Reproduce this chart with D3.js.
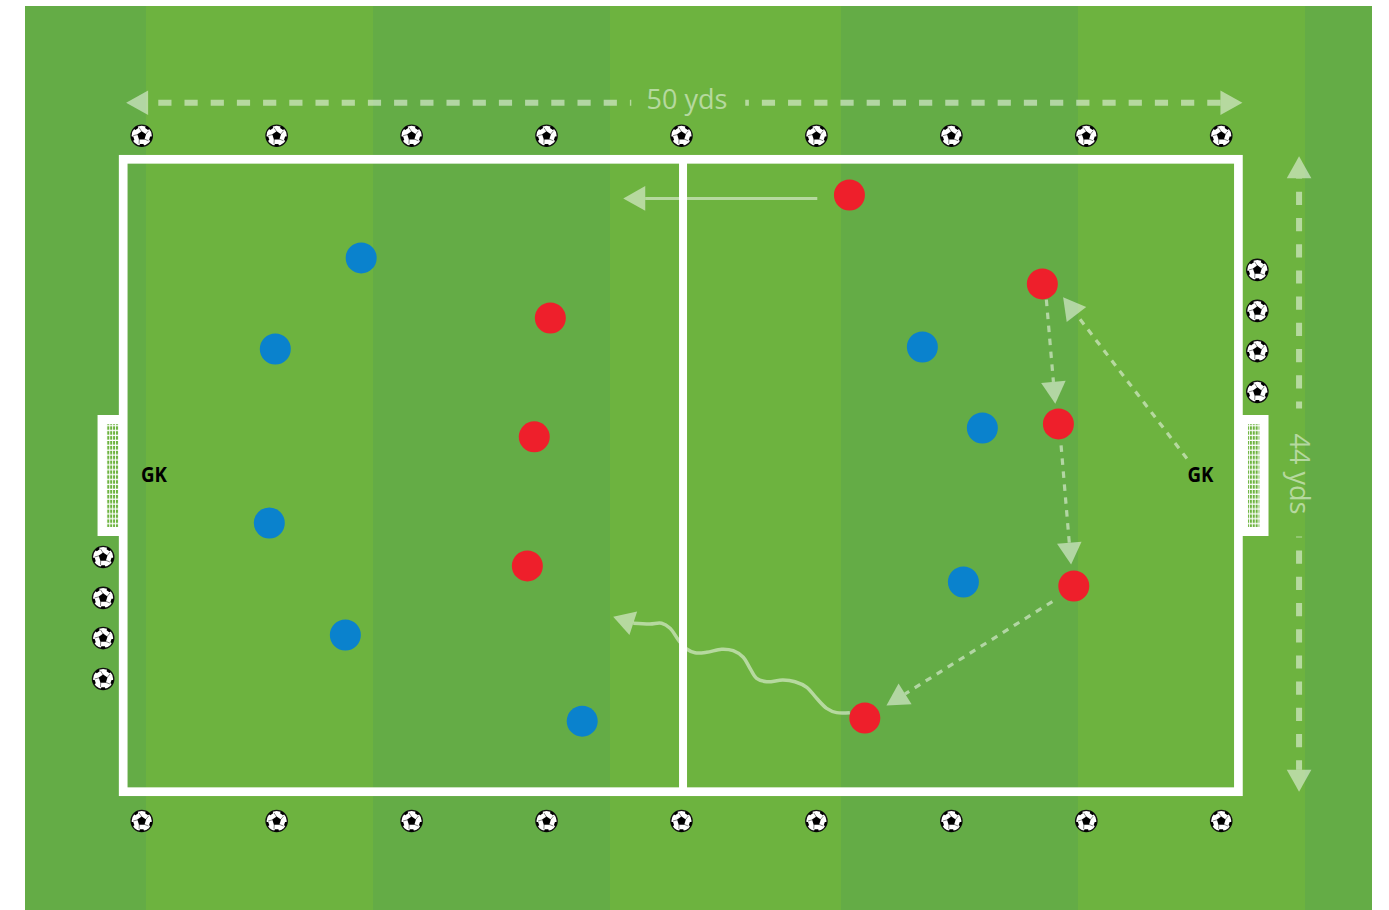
<!DOCTYPE html>
<html>
<head>
<meta charset="utf-8">
<script src="https://cdn.jsdelivr.net/npm/d3@7"></script>
<style>
  html, body { margin: 0; background: #fff; }
  svg { display: block; }
</style>
</head>
<body>
<div id="chart"></div>
<script>
// all positions are in yards, measured from the top left corner of the pitch
var stripeEdges = [-4.39, 1.03, 11.21, 21.84, 32.2, 42.83, 53.0, 56.0];
var fieldTop = -10.65;
var fieldBottom = 52.28;
var halfwayLine = 25.1;

var blueX = [10.67, 6.82, 6.55, 9.96, 20.58, 35.83, 38.52, 37.67];
var blueY = [6.86, 13.20, 25.30, 33.10, 39.09, 13.06, 18.70, 29.41];
var redX = [32.56, 19.15, 18.43, 18.12, 41.21, 41.93, 42.62, 33.25];
var redY = [2.48, 11.04, 19.31, 28.29, 8.67, 18.41, 29.69, 38.88];

var ballRowX = [0.83, 6.88, 12.93, 18.98, 25.03, 31.08, 37.13, 43.18, 49.23];
var ballRowY = [-1.64, 46.04];
var ballLeftX = -0.90;
var ballLeftY = [27.67, 30.52, 33.31, 36.16];
var ballRightX = 50.85;
var ballRightY = [7.70, 10.55, 13.34, 16.18];

var goalY = [17.79, 26.21];
var netY = [18.42, 25.58];
var goalLeftX = [-1.15, 0];
var netLeftX = [-0.73, -0.21];
var goalRightX = [50, 51.35];
var netRightX = [50.43, 50.94];

// [fromX, fromY, tipX, tipY]
var solidRun = [31.12, 2.72, 22.42, 2.72];
var passes = [
  [47.69, 20.82, 42.14, 9.59],
  [41.39, 9.77, 41.79, 17.01],
  [42.05, 19.91, 42.50, 28.20],
  [41.66, 30.77, 34.22, 38.01]
];
var measures = [
  [22.78, -3.93, 0.13, -3.93],
  [27.89, -3.93, 50.18, -3.93],
  [52.72, 17.33, 52.72, -0.21],
  [52.72, 26.25, 52.72, 44]
];
var dribbleX = [32.58, 31.99, 31.54, 31.09, 30.65, 30.12, 29.58, 28.85, 28.40, 28.10, 27.80, 27.35, 26.83, 26.16, 25.64, 25.26, 24.89, 24.52, 24.14, 23.62, 22.87];
var dribbleY = [38.50, 38.50, 38.20, 37.50, 36.74, 36.35, 36.23, 36.35, 36.11, 35.41, 34.65, 34.19, 34.09, 34.30, 34.33, 34.07, 33.44, 32.63, 32.28, 32.33, 32.28];
var dribbleTip = [21.97, 31.82];

var keepers = [[1.38, 22.47], [48.3, 22.47]];
var widthLabel = "50 yds";
var heightLabel = "44 yds";

var svgWidth = 1389;
var svgHeight = 910;
var dark = "#64ac46";
var light = "#6db33f";
var chalk = "#fff";
var chalkAlpha = 0.5;

var svg = d3.select("#chart").append("svg")
  .attr("width", svgWidth)
  .attr("height", svgHeight);

var x = d3.scaleLinear().domain([0, 50]).range([123.2, 1238.4]);
var y = d3.scaleLinear().domain([0, 44]).range([159.3, 791.7]);

var defs = svg.append("defs");

// goal netting
var net = defs.append("pattern")
  .attr("id", "net")
  .attr("patternUnits", "userSpaceOnUse")
  .attr("width", 2.9)
  .attr("height", 4.9);
net.append("rect").attr("width", 2.9).attr("height", 4.9).attr("fill", "#fff");
net.append("rect").attr("width", 2).attr("height", 3.6).attr("fill", light);

defs.append("clipPath").attr("id", "ballClip")
  .append("circle").attr("r", 10.7);

// grass stripes
svg.append("g").selectAll("rect")
  .data(d3.pairs(stripeEdges))
  .enter()
  .append("rect")
  .attr("x", d => x(d[0]))
  .attr("width", d => x(d[1]) - x(d[0]))
  .attr("y", y(fieldTop))
  .attr("height", y(fieldBottom) - y(fieldTop))
  .attr("shape-rendering", "crispEdges")
  .attr("fill", (d, i) => i % 2 === 0 ? dark : light);

// turn a base and a tip into an arrow head triangle (in pixels)
function head(bx, by, tx, ty) {
  var len = Math.hypot(tx - bx, ty - by);
  var nx = -(ty - by) / len * 12.3;
  var ny = (tx - bx) / len * 12.3;
  return [[tx, ty], [bx + nx, by + ny], [bx - nx, by - ny]].join(" ");
}

// shaft stops where the head starts, 22px short of the tip
function drawArrow(g, a, width, dash, offset) {
  var x1 = x(a[0]), y1 = y(a[1]), tx = x(a[2]), ty = y(a[3]);
  var len = Math.hypot(tx - x1, ty - y1);
  var bx = tx - (tx - x1) / len * 22;
  var by = ty - (ty - y1) / len * 22;
  g.append("line")
    .attr("x1", x1).attr("y1", y1)
    .attr("x2", bx).attr("y2", by)
    .attr("stroke", chalk)
    .attr("stroke-opacity", chalkAlpha)
    .attr("stroke-width", width)
    .attr("stroke-dasharray", dash)
    .attr("stroke-dashoffset", offset);
  g.append("polygon")
    .attr("points", head(bx, by, tx, ty))
    .attr("fill", chalk)
    .attr("fill-opacity", chalkAlpha);
}

var arrows = svg.append("g");

// dimension arrows
var measureOffsets = [11.8, 9.6, 6.2, 12.2];
measures.forEach(function(m, i) {
  drawArrow(arrows, m, 6, "13.2 13", measureOffsets[i]);
});

// passes and the run
passes.forEach(function(p) {
  drawArrow(arrows, p, 3.2, "6.5 6.5", 0);
});
drawArrow(arrows, solidRun, 3, null, 0);

// dribble
var dribble = d3.zip(dribbleX, dribbleY);
arrows.append("path")
  .attr("d", d3.line().x(d => x(d[0])).y(d => y(d[1])).curve(d3.curveCatmullRom)(dribble))
  .attr("fill", "none")
  .attr("stroke", chalk)
  .attr("stroke-opacity", chalkAlpha)
  .attr("stroke-width", 3.5);
var lastPoint = dribble[dribble.length - 1];
arrows.append("polygon")
  .attr("points", head(x(lastPoint[0]), y(lastPoint[1]), x(dribbleTip[0]), y(dribbleTip[1])))
  .attr("fill", chalk)
  .attr("fill-opacity", chalkAlpha);

// pitch markings
var pitch = svg.append("g");
pitch.append("rect")
  .attr("x", x(0))
  .attr("y", y(0))
  .attr("width", x(50) - x(0))
  .attr("height", y(44) - y(0))
  .attr("fill", "none")
  .attr("stroke", "#fff")
  .attr("stroke-width", 8.7);
pitch.append("line")
  .attr("x1", x(halfwayLine)).attr("x2", x(halfwayLine))
  .attr("y1", y(0)).attr("y2", y(44))
  .attr("stroke", "#fff")
  .attr("stroke-width", 8);

[[goalLeftX, netLeftX], [goalRightX, netRightX]].forEach(function(g) {
  pitch.append("rect")
    .attr("x", x(g[0][0]))
    .attr("width", x(g[0][1]) - x(g[0][0]))
    .attr("y", y(goalY[0]))
    .attr("height", y(goalY[1]) - y(goalY[0]))
    .attr("fill", "#fff");
  pitch.append("rect")
    .attr("x", x(g[1][0]))
    .attr("width", x(g[1][1]) - x(g[1][0]))
    .attr("y", y(netY[0]))
    .attr("height", y(netY[1]) - y(netY[0]))
    .attr("fill", "url(#net)");
});

// balls
var balls = [];
ballRowY.forEach(function(by) {
  ballRowX.forEach(function(bx) { balls.push([bx, by]); });
});
ballLeftY.forEach(function(by) { balls.push([ballLeftX, by]); });
ballRightY.forEach(function(by) { balls.push([ballRightX, by]); });

function pentagon(cx, cy, r, start) {
  return d3.range(5).map(function(i) {
    var a = start + i * 2 * Math.PI / 5;
    return [cx + r * Math.cos(a), cy + r * Math.sin(a)];
  }).join(" ");
}

var ball = svg.append("g").selectAll("g")
  .data(balls)
  .enter()
  .append("g")
  .attr("transform", d => `translate(${x(d[0])}, ${y(d[1])})`);

ball.append("circle")
  .attr("r", 10.7)
  .attr("fill", "#fff")
  .attr("stroke", "#111")
  .attr("stroke-width", 1.3);

ball.append("polygon")
  .attr("points", pentagon(0, 0, 4.6, -Math.PI / 2))
  .attr("fill", "#000");

var patches = ball.append("g").attr("clip-path", "url(#ballClip)");
d3.range(5).forEach(function(i) {
  var a = Math.PI / 2 + i * 2 * Math.PI / 5;
  patches.append("polygon")
    .attr("points", pentagon(10.7 * Math.cos(a), 10.7 * Math.sin(a), 3, a))
    .attr("fill", "#000");
  // seams from the centre patch out to the rim patches
  patches.append("line")
    .attr("x1", 4 * Math.cos(a + Math.PI / 5)).attr("y1", 4 * Math.sin(a + Math.PI / 5))
    .attr("x2", 8.5 * Math.cos(a + 0.32)).attr("y2", 8.5 * Math.sin(a + 0.32))
    .attr("stroke", "#000").attr("stroke-width", 0.5);
});

// players
function drawPlayers(xs, ys, colour) {
  svg.append("g").selectAll("circle")
    .data(d3.zip(xs, ys))
    .enter()
    .append("circle")
    .attr("cx", d => x(d[0]))
    .attr("cy", d => y(d[1]))
    .attr("r", 15.5)
    .attr("fill", colour);
}
drawPlayers(blueX, blueY, "#0a82cd");
drawPlayers(redX, redY, "#ee1f2b");

// labels
svg.append("g").selectAll("text")
  .data(keepers)
  .enter()
  .append("text")
  .attr("x", d => x(d[0]))
  .attr("y", d => y(d[1]))
  .attr("text-anchor", "middle")
  .attr("font-family", "'Open Sans', sans-serif")
  .attr("font-weight", 700)
  .attr("font-size", 20.5)
  .attr("textLength", 26)
  .attr("lengthAdjust", "spacingAndGlyphs")
  .attr("fill", "#000")
  .text("GK");

svg.append("text")
  .attr("x", 687)
  .attr("y", 109)
  .attr("text-anchor", "middle")
  .attr("font-family", "'Open Sans', sans-serif")
  .attr("font-weight", 500)
  .attr("font-size", 27)
  .attr("fill", chalk)
  .attr("fill-opacity", chalkAlpha)
  .text(widthLabel);

svg.append("text")
  .attr("transform", "translate(1289.5, 474) rotate(90)")
  .attr("text-anchor", "middle")
  .attr("font-family", "'Open Sans', sans-serif")
  .attr("font-weight", 500)
  .attr("font-size", 27)
  .attr("fill", chalk)
  .attr("fill-opacity", chalkAlpha)
  .text(heightLabel);
</script>
</body>
</html>
